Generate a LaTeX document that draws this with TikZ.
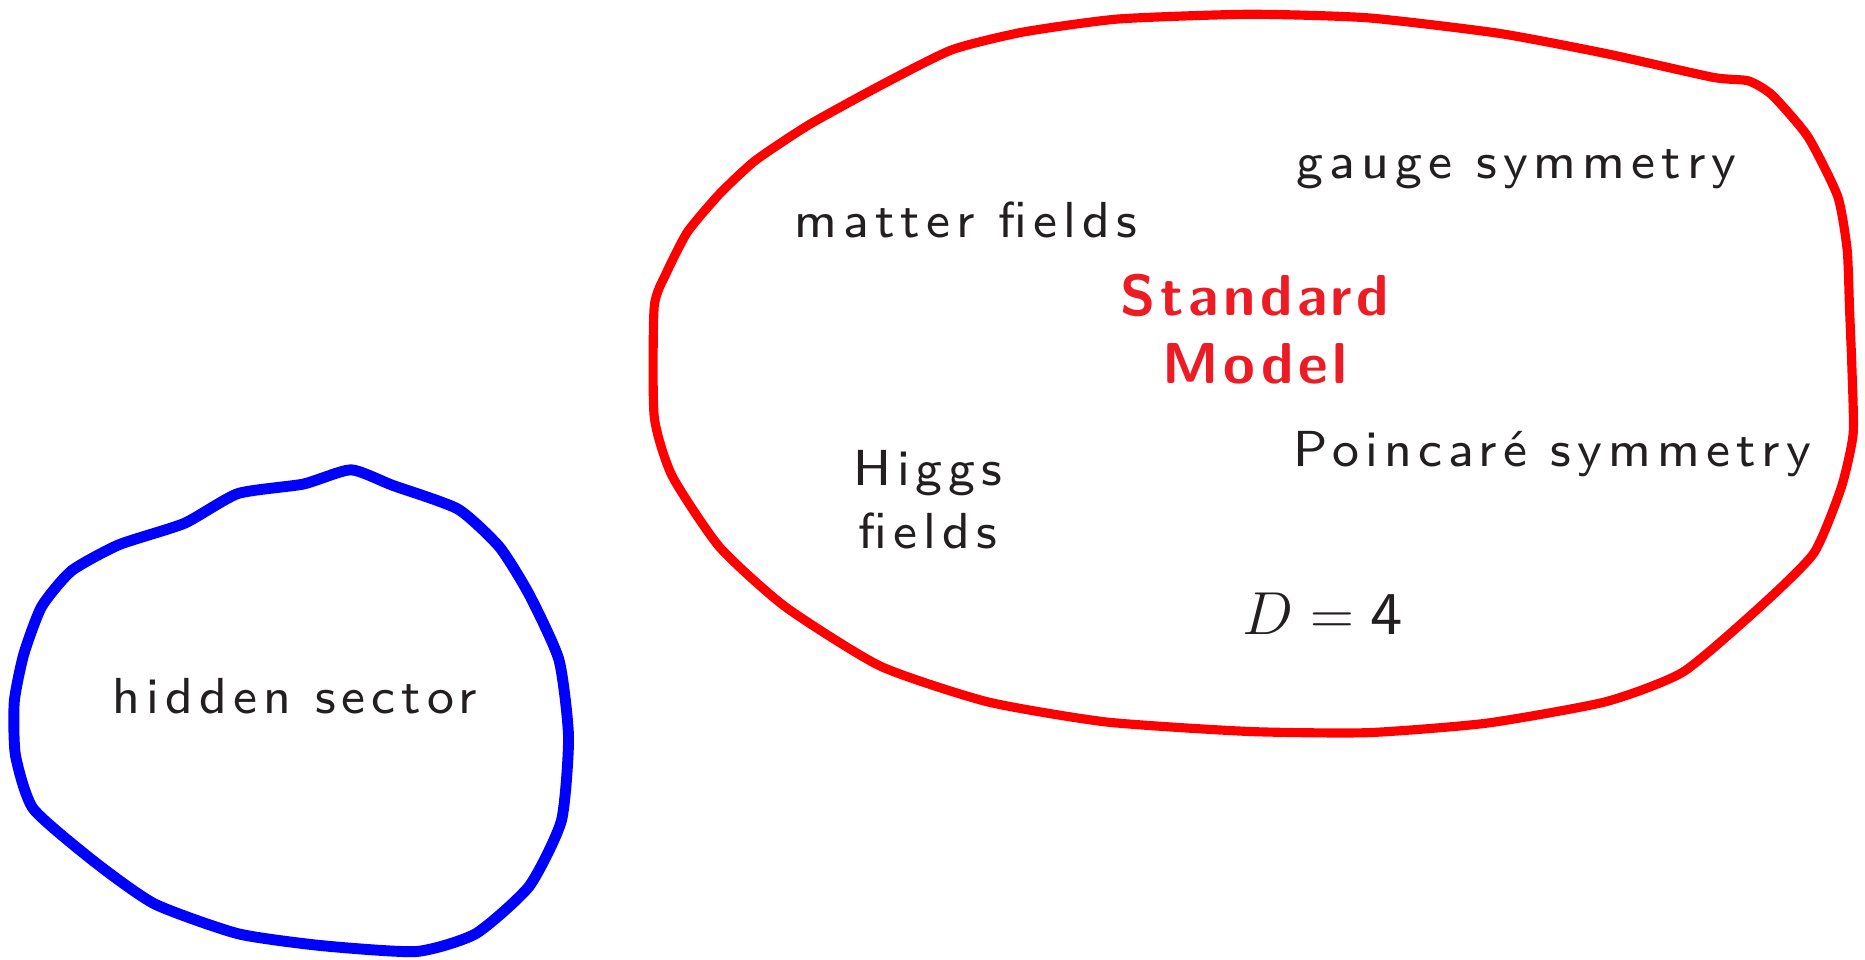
\documentclass[tikz,border=0pt]{standalone}
\usepackage{fontspec}
\setsansfont{lmsans8-regular.otf}[BoldFont=lmsans10-bold.otf, LetterSpace=12, BoldFeatures={LetterSpace=8}]
\usepackage{tikz}
\usetikzlibrary{positioning}
\definecolor{smred}{RGB}{255,0,0}
\definecolor{hiddenblue}{RGB}{0,0,255}
\definecolor{titlered}{RGB}{237,28,36}
\definecolor{ink}{RGB}{35,31,32}

\begin{document}
\begin{tikzpicture}[x=0.011894cm, y=-0.011894cm,
  lbl/.style={text=ink, font=\sffamily\Large, inner sep=0pt, align=center},
  blob/.style={line width=2.6pt, line join=round}]
  \useasboundingbox (0,0) rectangle (1568,807);

  \draw[blob, smred] plot[smooth cycle, tension=0.35] coordinates {
    (550,258) (560,230) (578,195) (605,163) (635,135) (680,105) (740,72)
    (800,42) (860,27) (940,16) (1050,12) (1150,15) (1260,28) (1350,45)
    (1440,65) (1470,68) (1490,80) (1520,115) (1545,165) (1553,210)
    (1555,260) (1557,310) (1558,365) (1548,410) (1525,465) (1480,510)
    (1415,565) (1350,590) (1250,608) (1150,616) (1050,615) (930,607)
    (830,590) (740,560) (660,510) (605,460) (565,400) (550,350)};
  \draw[blob, hiddenblue, line width=3.1pt] plot[smooth cycle, tension=0.35] coordinates {
    (12,590) (20,550) (35,510) (60,480) (100,458) (155,440) (200,415)
    (255,407) (295,395) (330,408) (385,428) (420,460) (445,500)
    (470,555) (478,620) (472,690) (445,745) (400,785) (350,800)
    (270,795) (200,785) (130,760) (80,725) (28,680) (13,635)};

  \node[lbl] (matter) at (812,185) {matter fields};
  \node[lbl] (gauge) at (1275,142) {gauge symmetry};
  \node[lbl, text=titlered, font=\sffamily\bfseries\fontsize{16.4}{19.3}\selectfont] (sm) at (1055,277) {Standard\\Model};
  \node[lbl] (poincare) at (1305,382) {Poincar\'e symmetry};
  \node[lbl] (higgs) at (780,420) {Higgs\\fields};
  \node[lbl, font=\LARGE] (dim) at (1112,516) {$D = \mathsf{4}$};
  \node[lbl] (hidden) at (248,585) {hidden sector};
\end{tikzpicture}
\end{document}
